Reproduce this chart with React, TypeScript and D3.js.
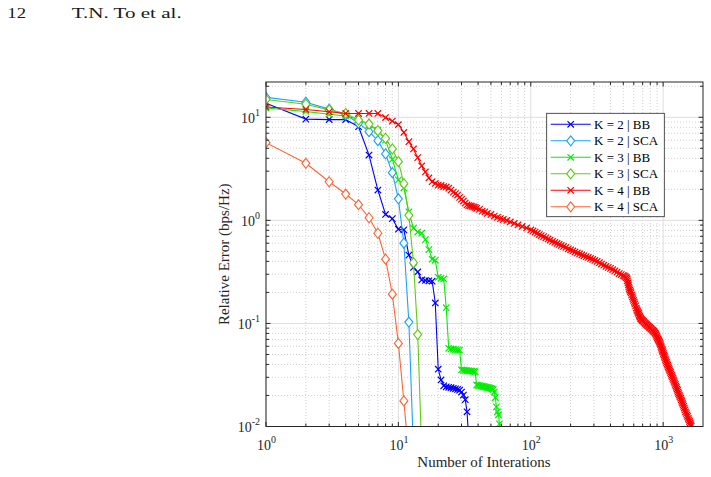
import React from "react";
import * as d3 from "d3";

// Relative error per iteration (bps/Hz) for each method / number of users
const k2bbErr = [13.7, 9.6, 9.5, 9.5, 8.1, 4.3, 1.97, 1.14, 1.04, 0.82, 0.81, 0.46, 0.35, 0.316, 0.264, 0.261, 0.259, 0.257, 0.158, 0.036, 0.0283, 0.0248, 0.0243, 0.024, 0.0238, 0.0235, 0.0232, 0.0229, 0.0225, 0.0216, 0.0202, 0.0182, 0.0139, 0.0075];
const k2scaErr = [15.6, 14.0, 12.0, 10.5, 8.8, 7.25, 5.93, 4.41, 2.9, 1.62, 0.6, 0.103, 0.006];
const k3bbErr = [12.3, 11.4, 10.7, 10.3, 9.6, 8.4, 7.5, 6.0, 3.9, 2.47, 2.06, 1.21, 0.84, 0.77, 0.75, 0.65, 0.52, 0.42, 0.41, 0.28, 0.274, 0.27, 0.142, 0.0574, 0.0566, 0.0562, 0.0558, 0.0555, 0.0551, 0.0354, 0.0352, 0.035, 0.0349, 0.0347, 0.0346, 0.0344, 0.0342, 0.034, 0.0253, 0.0251, 0.0249, 0.0247, 0.0246, 0.0244, 0.0243, 0.0241, 0.024, 0.0238, 0.0236, 0.0234, 0.0232, 0.0229, 0.0216, 0.0191, 0.0155, 0.0139, 0.013, 0.0106, 0.0078];
const k3scaErr = [14.9, 13.4, 11.8, 10.9, 9.4, 8.6, 7.41, 6.26, 4.93, 3.71, 2.27, 1.12, 0.389, 0.078, 0.006];
// K = 4 | BB: [iteration, error]
const k4bbPoints: [number, number][] = [
  [1, 12.6], [2, 11.9], [3, 11.3], [4, 10.9], [5, 10.9], [6, 10.9], [7, 10.9], [8, 9.95], [9, 9.2], [10, 8.5],
  [11, 7.12], [12, 5.8], [13, 4.93], [14, 4.06], [15, 3.37], [16, 2.95], [17, 2.58], [18, 2.37], [19, 2.28], [20, 2.2],
  [21, 2.18], [22, 2.13], [23, 2.11], [24, 2.05], [25, 1.97], [26, 1.88], [27, 1.82], [28, 1.76], [29, 1.67], [30, 1.6],
  [31, 1.54], [32, 1.47], [33, 1.41], [34, 1.39], [35, 1.38], [36, 1.37], [37, 1.35], [38, 1.34], [39, 1.31], [41, 1.28],
  [43, 1.23], [45, 1.21], [47, 1.17], [50, 1.14], [53, 1.1], [56, 1.07], [59, 1.04], [62, 1.02], [66, 0.998], [70, 0.965],
  [75, 0.933], [80, 0.902], [86, 0.873], [93, 0.844], [100, 0.807], [104, 0.789], [108, 0.771], [112, 0.75], [116, 0.729], [120, 0.712],
  [125, 0.695], [130, 0.677], [135, 0.66], [140, 0.642], [146, 0.624], [152, 0.61], [158, 0.597], [164, 0.584], [170, 0.571], [177, 0.558],
  [184, 0.546], [192, 0.53], [200, 0.516], [208, 0.505], [216, 0.494], [225, 0.483], [234, 0.472], [243, 0.462], [252, 0.453], [262, 0.445],
  [272, 0.437], [283, 0.427], [294, 0.418], [305, 0.408], [317, 0.399], [330, 0.388], [342, 0.377], [356, 0.367], [370, 0.357], [385, 0.35],
  [400, 0.342], [416, 0.332], [432, 0.323], [449, 0.314], [466, 0.305], [483, 0.298], [500, 0.292], [510, 0.288], [520, 0.283], [528, 0.278],
  [535, 0.27], [538, 0.259], [542, 0.247], [546, 0.236], [550, 0.226], [555, 0.218], [560, 0.211], [566, 0.204], [572, 0.198], [578, 0.189],
  [585, 0.181], [592, 0.174], [598, 0.167], [605, 0.161], [612, 0.155], [620, 0.148], [627, 0.141], [634, 0.136], [640, 0.132], [646, 0.128],
  [652, 0.125], [658, 0.121], [663, 0.118], [669, 0.115], [675, 0.112], [682, 0.11], [690, 0.108], [699, 0.1065], [708, 0.105], [717, 0.103],
  [727, 0.101], [737, 0.0994], [747, 0.0978], [757, 0.0962], [768, 0.0946], [779, 0.093], [790, 0.0915], [801, 0.09], [812, 0.0885], [824, 0.087],
  [835, 0.0855], [846, 0.0841], [858, 0.0827], [868, 0.0809], [878, 0.0791], [886, 0.077], [895, 0.0748], [903, 0.0727], [912, 0.0707], [921, 0.0691],
  [930, 0.0676], [939, 0.0659], [948, 0.0642], [956, 0.062], [965, 0.0598], [972, 0.0579], [980, 0.056], [988, 0.0545], [995, 0.053], [1003, 0.0512],
  [1012, 0.0495], [1021, 0.0479], [1030, 0.0463], [1040, 0.0448], [1050, 0.0433], [1060, 0.0419], [1070, 0.0405], [1080, 0.0393], [1090, 0.0381], [1101, 0.0369],
  [1112, 0.0358], [1123, 0.0346], [1135, 0.0335], [1147, 0.0324], [1160, 0.0313], [1172, 0.0303], [1185, 0.0293], [1197, 0.0283], [1210, 0.0274], [1222, 0.0265],
  [1235, 0.0256], [1247, 0.0247], [1260, 0.0239], [1272, 0.0231], [1285, 0.0224], [1297, 0.0216], [1310, 0.0209], [1325, 0.0202], [1340, 0.0195], [1355, 0.0188],
  [1370, 0.0181], [1385, 0.0175], [1400, 0.0169], [1415, 0.0163], [1430, 0.0157], [1445, 0.0151], [1460, 0.0145], [1478, 0.0139], [1495, 0.0134], [1512, 0.0129],
  [1530, 0.0125], [1548, 0.012], [1565, 0.0116], [1582, 0.0112], [1600, 0.0108], [1615, 0.0104], [1630, 0.0101],
];
const k4scaErr = [5.67, 3.58, 2.37, 1.8, 1.42, 1.06, 0.75, 0.42, 0.192, 0.064, 0.0177, 0.005];

const seriesNames = ["K = 2 | BB", "K = 2 | SCA", "K = 3 | BB", "K = 3 | SCA", "K = 4 | BB", "K = 4 | SCA"];
const seriesColors = ["#0000ff", "#1aa3ff", "#00ee00", "#5fcc12", "#ff0000", "#ff6633"];
const seriesMarkers = ["x", "diamond", "x", "diamond", "x", "diamond"];

const xTickExps = [0, 1, 2, 3];
const yTickExps = [-2, -1, 0, 1];

const SERIF = "'Liberation Serif', 'Times New Roman', serif";

const withIndex = (errs: number[]): [number, number][] => errs.map((v, i) => [i + 1, v]);

const seriesData: [number, number][][] = [
  withIndex(k2bbErr),
  withIndex(k2scaErr),
  withIndex(k3bbErr),
  withIndex(k3scaErr),
  k4bbPoints,
  withIndex(k4scaErr),
];

const X_MARK = "M-3.2,-3.2L3.2,3.2M-3.2,3.2L3.2,-3.2";
const DIAMOND = "M0,-5L4,0L0,5L-4,0Z";

function Marker({ kind, color, cx, cy }: { kind: string; color: string; cx: number; cy: number }) {
  return kind === "x" ? (
    <path d={X_MARK} transform={`translate(${cx},${cy})`} stroke={color} strokeWidth={1.2} fill="none" />
  ) : (
    <path d={DIAMOND} transform={`translate(${cx},${cy})`} stroke={color} strokeWidth={1.15} fill="#ffffff" />
  );
}

export default function App() {
  const W = 711;
  const H = 477;
  const left = 266, right = 703, top = 82, bottom = 426.5;

  const x = d3.scaleLog().domain([1, 2000]).range([left, right]);
  const y = d3.scaleLog().domain([0.01, 22]).range([bottom, top]);
  const line = d3
    .line<[number, number]>()
    .x((d) => x(d[0]))
    .y((d) => y(d[1]));

  const xMinor: number[] = [];
  xTickExps.forEach((e) => {
    for (let m = 2; m <= 9; m++) {
      const v = m * Math.pow(10, e);
      if (v < 2000) xMinor.push(v);
    }
  });
  const yMinor: number[] = [];
  yTickExps.forEach((e) => {
    for (let m = 2; m <= 9; m++) {
      const v = m * Math.pow(10, e);
      if (v < 22) yMinor.push(v);
    }
  });

  const axisColor = "#262626";
  const majorLen = 4.5;
  const minorLen = 3;

  const legX = 546.7, legY = 113.3, legW = 117.6, legH = 103.4;

  return (
    <svg
      width={W}
      height={H}
      viewBox={`0 0 ${W} ${H}`}
      style={{ position: "absolute", left: 0, top: 0, background: "#ffffff" }}
      fontFamily={SERIF}
    >
      <rect x={0} y={0} width={W} height={H} fill="#ffffff" />

      {/* running header */}
      <text x={7.3} y={18.3} fontSize={15} textLength={18.7} lengthAdjust="spacingAndGlyphs" fill="#1a1a1a">
        12
      </text>
      <text x={71.7} y={18.3} fontSize={15} textLength={110} lengthAdjust="spacingAndGlyphs" fill="#1a1a1a">
        T.N. To et al.
      </text>

      <defs>
        <clipPath id="plot-area">
          <rect x={left} y={top} width={right - left} height={bottom - top} />
        </clipPath>
      </defs>

      {/* grid */}
      <g>
        {xMinor.map((v) => (
          <line key={"xm" + v} x1={x(v)} x2={x(v)} y1={top} y2={bottom} stroke="#c4c4c4" strokeWidth={0.8} strokeDasharray="1,2" />
        ))}
        {yMinor.map((v) => (
          <line key={"ym" + v} x1={left} x2={right} y1={y(v)} y2={y(v)} stroke="#c4c4c4" strokeWidth={0.8} strokeDasharray="1,2" />
        ))}
        {xTickExps.map((e) => (
          <line key={"xg" + e} x1={x(Math.pow(10, e))} x2={x(Math.pow(10, e))} y1={top} y2={bottom} stroke="#dedede" strokeWidth={1} />
        ))}
        {yTickExps.map((e) => (
          <line key={"yg" + e} x1={left} x2={right} y1={y(Math.pow(10, e))} y2={y(Math.pow(10, e))} stroke="#dedede" strokeWidth={1} />
        ))}
      </g>

      {/* data */}
      <g clipPath="url(#plot-area)">
        {seriesData.map((pts, si) => (
          <g key={"s" + si}>
            <path d={line(pts) || ""} fill="none" stroke={seriesColors[si]} strokeWidth={1.1} />
            {pts.map((p, pi) => (
              <Marker key={pi} kind={seriesMarkers[si]} color={seriesColors[si]} cx={x(p[0])} cy={y(p[1])} />
            ))}
          </g>
        ))}
      </g>

      {/* axes box and ticks */}
      <g stroke={axisColor} strokeWidth={1} fill="none">
        <rect x={left} y={top} width={right - left} height={bottom - top} />
        {xTickExps.map((e) => {
          const px = x(Math.pow(10, e));
          return (
            <g key={"xt" + e}>
              <line x1={px} x2={px} y1={bottom} y2={bottom - majorLen} />
              <line x1={px} x2={px} y1={top} y2={top + majorLen} />
            </g>
          );
        })}
        {xMinor.map((v) => (
          <g key={"xmt" + v}>
            <line x1={x(v)} x2={x(v)} y1={bottom} y2={bottom - minorLen} />
            <line x1={x(v)} x2={x(v)} y1={top} y2={top + minorLen} />
          </g>
        ))}
        {yTickExps.map((e) => {
          const py = y(Math.pow(10, e));
          return (
            <g key={"yt" + e}>
              <line x1={left} x2={left + majorLen} y1={py} y2={py} />
              <line x1={right} x2={right - majorLen} y1={py} y2={py} />
            </g>
          );
        })}
        {yMinor.map((v) => (
          <g key={"ymt" + v}>
            <line x1={left} x2={left + minorLen} y1={y(v)} y2={y(v)} />
            <line x1={right} x2={right - minorLen} y1={y(v)} y2={y(v)} />
          </g>
        ))}
      </g>

      {/* tick labels */}
      <g fill="#262626" fontSize={14}>
        {xTickExps.map((e) => (
          <text key={"xl" + e} x={x(Math.pow(10, e)) + 0.5} y={450} textAnchor="middle">
            10
            <tspan dy={-7} fontSize={10}>
              {e}
            </tspan>
          </text>
        ))}
        {yTickExps.map((e) => (
          <text key={"yl" + e} x={260} y={y(Math.pow(10, e)) + 5.5} textAnchor="end">
            10
            <tspan dy={-7} fontSize={10}>
              {e}
            </tspan>
          </text>
        ))}
      </g>

      {/* axis titles */}
      <text x={484} y={467} fontSize={15} textAnchor="middle" fill="#262626">
        Number of Interations
      </text>
      <text transform={`translate(229,${(top + bottom) / 2}) rotate(-90)`} fontSize={15} textAnchor="middle" fill="#262626">
        Relative Error (bps/Hz)
      </text>

      {/* legend */}
      <g>
        <rect x={legX} y={legY} width={legW} height={legH} fill="#ffffff" stroke={axisColor} strokeWidth={0.8} />
        {seriesNames.map((name, i) => {
          const ry = 124.3 + i * 16.5;
          return (
            <g key={"lg" + i}>
              <line x1={550.7} x2={590.7} y1={ry} y2={ry} stroke={seriesColors[i]} strokeWidth={1.1} />
              <Marker kind={seriesMarkers[i]} color={seriesColors[i]} cx={570.7} cy={ry} />
              <text x={594} y={ry + 4.5} fontSize={13} fill="#000000">
                {name}
              </text>
            </g>
          );
        })}
      </g>
    </svg>
  );
}
